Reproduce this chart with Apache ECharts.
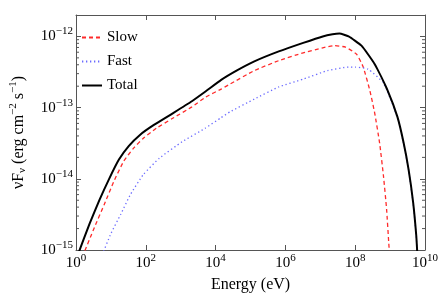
<!DOCTYPE html>
<html><head><meta charset="utf-8">
<script src="https://cdn.jsdelivr.net/npm/echarts@6/dist/echarts.min.js"></script>
<style>html,body{margin:0;padding:0;background:#fff}#c{width:447px;height:298px}</style>
</head><body><div id="c"></div>
<script>
// Values, stored as log10(Energy / eV) and log10(nuF_nu / erg cm^-2 s^-1)
const totalLogE = [0.05, 0.39, 0.67, 0.95, 1.23, 1.51, 1.84, 2.21, 2.77, 3.32, 3.72, 4.16, 4.60, 5.11, 5.81, 6.51, 7.07, 7.35, 7.55, 7.81, 8.18, 8.56, 8.93, 9.21, 9.39, 9.53, 9.66, 9.75, 9.78];
const totalLogF = [-15.07, -14.63, -14.30, -14.00, -13.73, -13.54, -13.38, -13.25, -13.08, -12.91, -12.77, -12.61, -12.48, -12.35, -12.21, -12.09, -12.00, -11.97, -11.96, -12.00, -12.13, -12.39, -12.76, -13.13, -13.50, -13.87, -14.33, -14.80, -15.05];
const slowLogE = [0.18, 0.53, 0.81, 1.09, 1.37, 1.65, 1.93, 2.30, 2.77, 3.32, 3.72, 4.16, 4.41, 5.11, 5.81, 6.51, 7.07, 7.40, 7.72, 8.04, 8.23, 8.42, 8.56, 8.70, 8.81, 8.90, 8.96, 8.99];
const slowLogF = [-15.10, -14.68, -14.36, -14.03, -13.75, -13.57, -13.43, -13.29, -13.15, -12.99, -12.85, -12.74, -12.67, -12.48, -12.34, -12.23, -12.16, -12.13, -12.15, -12.25, -12.43, -12.76, -13.08, -13.50, -13.96, -14.43, -14.89, -15.10];
const fastLogE = [0.75, 1.00, 1.28, 1.56, 1.93, 2.39, 3.04, 3.70, 4.16, 4.41, 5.11, 5.81, 6.51, 7.21, 7.81, 8.00, 8.37, 8.79, 8.93, 9.21, 9.39, 9.53, 9.66, 9.75, 9.78];
const fastLogF = [-15.07, -14.77, -14.50, -14.22, -13.94, -13.71, -13.48, -13.29, -13.14, -13.06, -12.88, -12.71, -12.60, -12.48, -12.43, -12.43, -12.46, -12.64, -12.78, -13.14, -13.51, -13.88, -14.34, -14.81, -15.06];
const seriesNames = ['Slow', 'Fast', 'Total'];
const xMin = 1, xMax = 1e10, yMin = 1e-15, yMax = 2e-12;

const toData = (le, lf) => le.map((e, i) => [Math.pow(10, e), Math.pow(10, lf[i])]);
const minorY = [];
for (let k = -15; k <= -12; k++) for (let m = 2; m <= 9; m++) { const v = m * Math.pow(10, k); if (v < yMax * 0.999) minorY.push([xMin, v]); }

const FONT = 'Liberation Serif';
const AX = '#555';
const powLabel = v => {
  const e = Math.log10(v);
  if (Math.abs(e - Math.round(e)) > 1e-6) return '';
  const r = Math.round(e);
  return '{b|10}{s|' + (r < 0 ? '\u2212' + (-r) : r) + '}';
};
const rich = {
  b: { fontFamily: FONT, fontSize: 15, color: '#000' },
  s: { fontFamily: FONT, fontSize: 11, color: '#000', padding: [0, 0, 10, 0] }
};

const chart = echarts.init(document.getElementById('c'));
const xCommon = { type: 'log', logBase: 10, min: xMin, max: xMax, interval: 2,
  axisLine: { lineStyle: { color: AX, width: 1 } },
  axisTick: { inside: true, length: 5, lineStyle: { color: AX } },
  splitLine: { show: false } };
const yCommon = { type: 'log', logBase: 10, min: yMin, max: yMax, interval: 1,
  axisLine: { lineStyle: { color: AX, width: 1 } },
  axisTick: { inside: true, length: 5, lineStyle: { color: AX } },
  splitLine: { show: false } };

chart.setOption({
  animation: false,
  grid: { left: 67, right: 22, top: 15, bottom: 45, containLabel: false },
  legend: {
    data: seriesNames, orient: 'vertical', left: 76, top: 25, itemWidth: 20, itemHeight: 12, itemGap: 9,
    itemStyle: { opacity: 0 },
    textStyle: { fontFamily: FONT, fontSize: 15, color: '#000' }
  },
  xAxis: [
    Object.assign({}, xCommon, { position: 'bottom',
      name: 'Energy (eV)', nameLocation: 'middle', nameGap: 27,
      nameTextStyle: { fontFamily: FONT, fontSize: 16, color: '#000' },
      axisLabel: { margin: 3, formatter: powLabel, rich: rich } }),
    Object.assign({}, xCommon, { position: 'top', axisLabel: { show: false } })
  ],
  yAxis: [
    Object.assign({}, yCommon, { position: 'left',
      name: '{a|\u03bdF}{sub|\u03bd}{a| (erg cm}{sup|\u22122}{a| s}{sup|\u22121}{a|)}',
      nameLocation: 'middle', nameGap: 47, nameRotate: 90,
      nameTextStyle: { rich: {
        a: { fontFamily: FONT, fontSize: 16, color: '#000' },
        sub: { fontFamily: FONT, fontSize: 11, color: '#000', padding: [8, 0, 0, 0] },
        sup: { fontFamily: FONT, fontSize: 11, color: '#000', padding: [0, 0, 10, 0] } } },
      axisLabel: { margin: 3, formatter: powLabel, rich: rich, showMaxLabel: false } }),
    Object.assign({}, yCommon, { position: 'right', axisLabel: { show: false } })
  ],
  series: [
    { name: 'Slow', type: 'line', data: toData(slowLogE, slowLogF), smooth: 0.15, symbol: 'circle', showSymbol: false,
      lineStyle: { color: '#ff2a2a', width: 1.3, type: [4, 3] }, itemStyle: { color: '#ff2a2a' } },
    { name: 'Fast', type: 'line', data: toData(fastLogE, fastLogF), smooth: 0.15, symbol: 'circle', showSymbol: false,
      lineStyle: { color: '#6a6aff', width: 1.3, type: [1.3, 2.7] }, itemStyle: { color: '#6a6aff' } },
    { name: 'Total', type: 'line', data: toData(totalLogE, totalLogF), smooth: 0.15, symbol: 'circle', showSymbol: false, z: 3,
      lineStyle: { color: '#000', width: 2 }, itemStyle: { color: '#000' } },
    { type: 'custom', silent: true, clip: false, data: minorY,
      encode: { x: 0, y: 1 },
      renderItem: function (params, api) {
        const v = api.value(1);
        const pL = api.coord([xMin, v]);
        const pR = api.coord([xMax, v]);
        return { type: 'group', children: [
          { type: 'line', shape: { x1: pL[0], y1: pL[1], x2: pL[0] + 3, y2: pL[1] }, style: { stroke: AX, lineWidth: 1 } },
          { type: 'line', shape: { x1: pR[0], y1: pR[1], x2: pR[0] - 3, y2: pR[1] }, style: { stroke: AX, lineWidth: 1 } }
        ] };
      } }
  ]
});
</script></body></html>
